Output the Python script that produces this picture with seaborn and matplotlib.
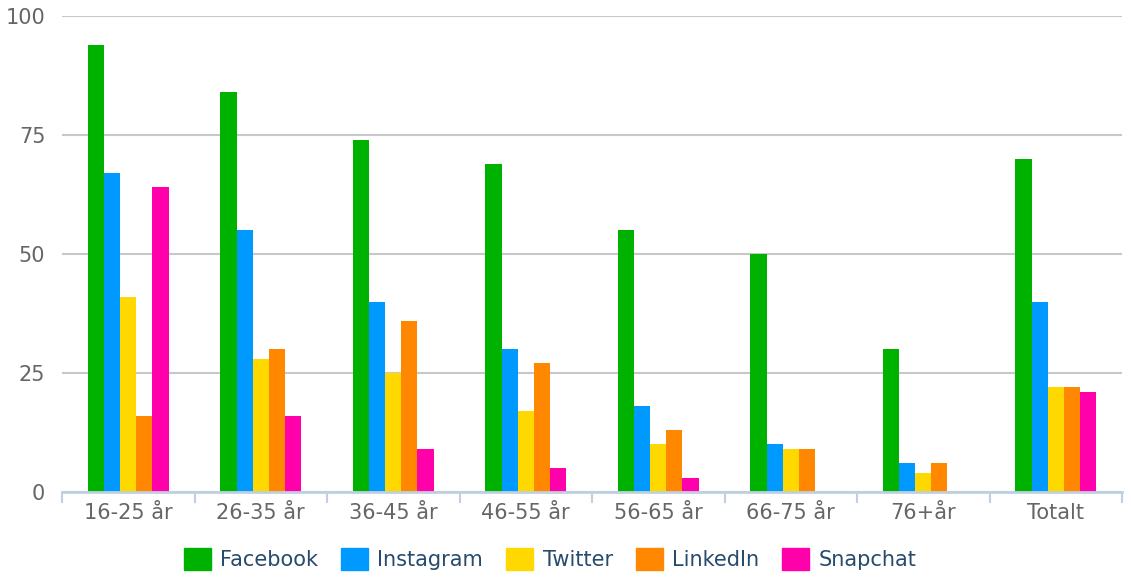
import numpy as np
import pandas as pd
import matplotlib
matplotlib.use("Agg")
import matplotlib.pyplot as plt
import seaborn as sns
from matplotlib.patches import Patch

categories = ["16-25 år", "26-35 år", "36-45 år", "46-55 år", "56-65 år",
              "66-75 år", "76+år", "Totalt"]
platforms = ["Facebook", "Instagram", "Twitter", "LinkedIn", "Snapchat"]

facebook = [94, 84, 74, 69, 55, 50, 30, 70]
instagram = [67, 55, 40, 30, 18, 10, 6, 40]
twitter = [41, 28, 25, 17, 10, 9, 4, 22]
linkedin = [16, 30, 36, 27, 13, 9, 6, 22]
snapchat = [64, 16, 9, 5, 3, np.nan, np.nan, 21]

colors = ["#00b200", "#0099ff", "#ffd800", "#ff8800", "#ff00aa"]

# long form table for seaborn
series = [facebook, instagram, twitter, linkedin, snapchat]
rows = []
for name, vals in zip(platforms, series):
    for cat, v in zip(categories, vals):
        rows.append({"group": cat, "platform": name, "value": v})
df = pd.DataFrame(rows)

sns.set_style("white")
plt.rcParams["font.family"] = ["DejaVu Sans"]

fig = plt.figure(figsize=(11.31, 5.84), dpi=100)
ax = fig.add_axes([62 / 1131, 1 - 492 / 584, (1122 - 62) / 1131, (492 - 16) / 584])

sns.barplot(data=df, x="group", y="value", hue="platform", order=categories,
            hue_order=platforms, palette=colors, width=0.61, saturation=1,
            linewidth=0, errorbar=None, ax=ax)

handles = [Patch(facecolor=c, edgecolor=c) for c in colors]
if ax.get_legend() is not None:
    ax.get_legend().remove()

ax.set_ylim(0, 100)
ax.set_xlim(-0.5, len(categories) - 0.5)
ax.set_yticks([0, 25, 50, 75, 100])
ax.yaxis.grid(True, color="#c8c8c8", linewidth=1.5)
ax.set_axisbelow(True)
ax.set_xlabel("")
ax.set_ylabel("")

for s in ["top", "right", "left"]:
    ax.spines[s].set_visible(False)
ax.spines["bottom"].set_color("#c0d0e0")
ax.spines["bottom"].set_linewidth(2)
ax.spines["bottom"].set_zorder(5)

ax.tick_params(axis="y", length=0, pad=12, labelsize=15, labelcolor="#666666")
ax.tick_params(axis="x", which="major", length=0, pad=8, labelsize=15,
               labelcolor="#666666")
ax.set_xticks(np.arange(-0.5, len(categories)), minor=True)
ax.tick_params(axis="x", which="minor", bottom=True, length=8, width=1.5,
               color="#c0d0e0", direction="out")

fig.legend(handles, platforms, loc="center", bbox_to_anchor=(550 / 1131, 1 - 559 / 584),
           ncol=5, frameon=False, fontsize=15, labelcolor="#274b6d",
           handlelength=1.3, handleheight=1.3, handletextpad=0.45, columnspacing=1.1)

fig.savefig("out.png", dpi=100)
